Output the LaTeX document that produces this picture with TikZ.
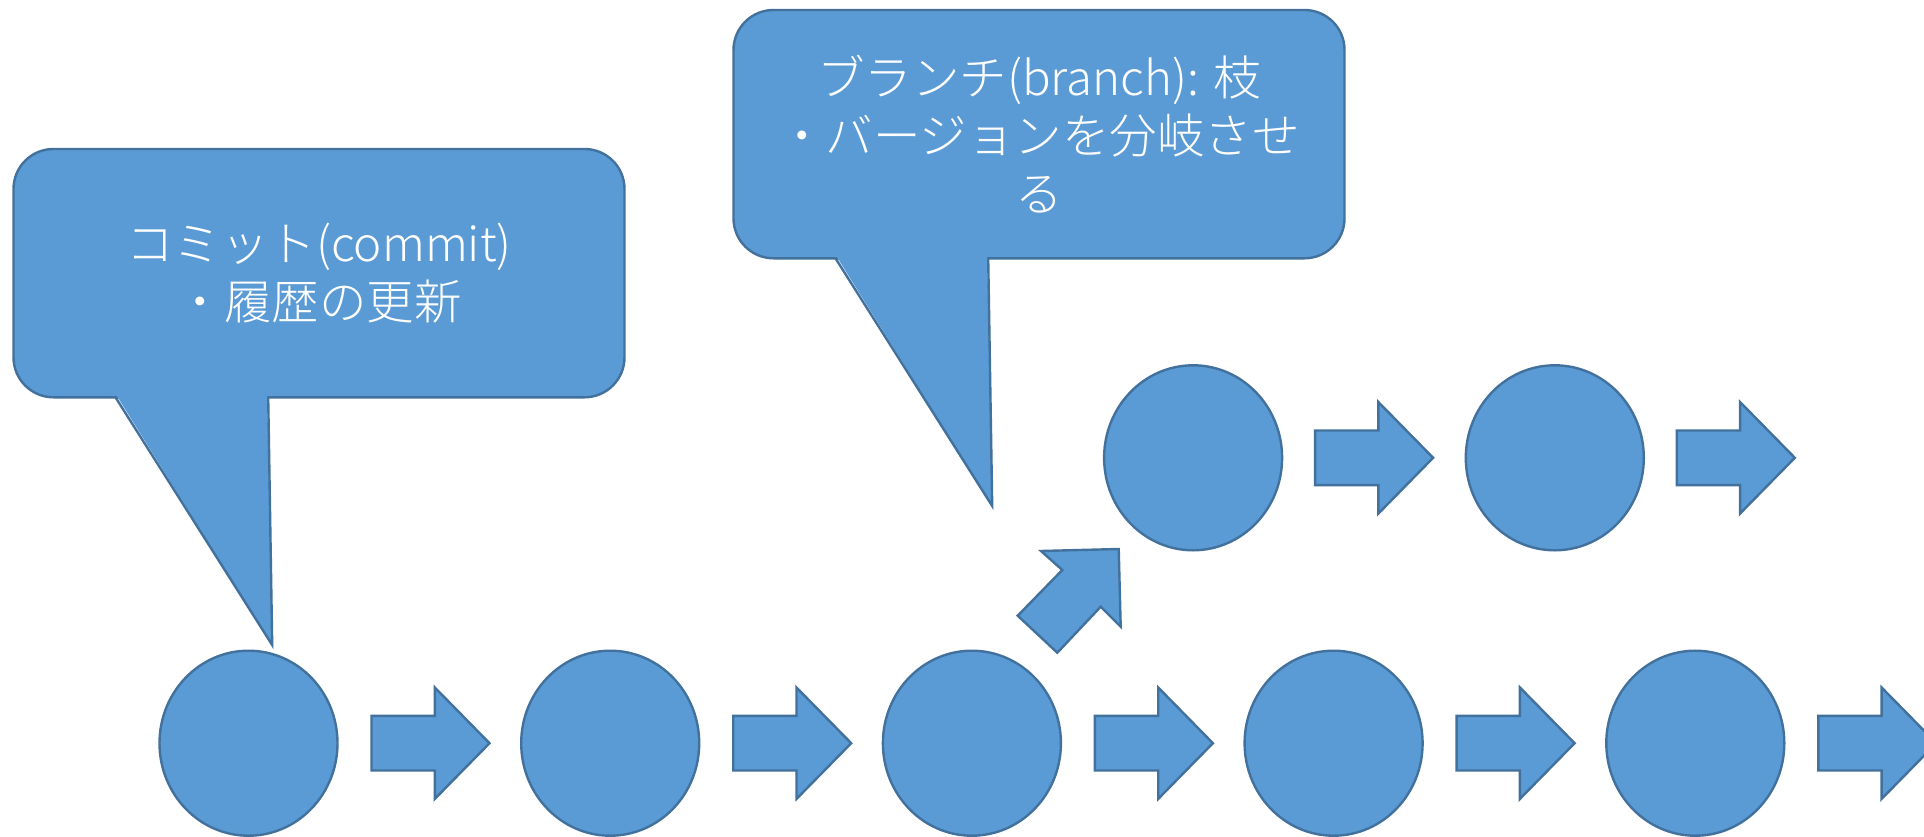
\documentclass[tikz,border=0pt]{standalone}
\usepackage{fontspec}
\newfontfamily\cjk{Noto Sans CJK JP}[UprightFont={* Light}]
\usetikzlibrary{shapes.geometric}
\definecolor{shapefill}{HTML}{5B9BD5}
\definecolor{shapeline}{HTML}{41719C}
\tikzset{
  shapestyle/.style={draw=shapeline, fill=shapefill, line width=2.4pt, line join=miter},
  commit/.style={shapestyle, ellipse, minimum width=178pt, minimum height=185pt, inner sep=0pt},
  callbox/.style={shapestyle, rectangle, rounded corners=40pt, minimum width=611pt, minimum height=248.3pt,
    inner sep=0pt, align=center, text=white, font=\cjk\fontsize{47.5}{58}\selectfont},
  tailfill/.style={fill=shapefill},
  tailline/.style={draw=shapeline, line width=2.4pt, line join=miter},
  barrow/.pic={\draw[shapestyle] (0,-27.3) -- (63.3,-27.3) -- (63.3,-55.7) -- (118,0) -- (63.3,55.7) -- (63.3,27.3) -- (0,27.3) -- cycle;}
}
\begin{document}
\begin{tikzpicture}[x=1pt,y=-1pt]
\clip (0,0) rectangle (1924,837);
\fill[white] (0,0) rectangle (1924,837);
% callout 1
\node[callbox] (k1) at (319,273.15) {コミット(commit)\\・履歴の更新};
\coordinate (k1a) at (115.5,397.3);
\coordinate (k1t) at (272.2,645);
\coordinate (k1b) at (268.2,397.3);
\fill[tailfill] ([xshift=1pt,yshift=2pt]k1a) -- (k1t) -- ([xshift=-1pt,yshift=2pt]k1b) -- cycle;
\draw[tailline] (k1a) -- (k1t) -- (k1b);
% callout 2
\node[callbox] (k2) at (1039,134.15) {ブランチ(branch): 枝\\・バージョンを分岐させ\\る};
\coordinate (k2a) at (835.5,258.3);
\coordinate (k2t) at (992.2,506);
\coordinate (k2b) at (988.2,258.3);
\fill[tailfill] ([xshift=1pt,yshift=2pt]k2a) -- (k2t) -- ([xshift=-1pt,yshift=2pt]k2b) -- cycle;
\draw[tailline] (k2a) -- (k2t) -- (k2b);
% bottom commits
\node[commit] (c1) at (248.5,743.2) {};
\node[commit] (c2) at (610.2,743.2) {};
\node[commit] (c3) at (971.9,743.2) {};
\node[commit] (c4) at (1333.6,743.2) {};
\node[commit] (c5) at (1695.3,743.2) {};
% top commits
\node[commit] (t1) at (1193.1,457.8) {};
\node[commit] (t2) at (1554.8,457.8) {};
% bottom arrows
\pic at (371.5,743.2) {barrow};
\pic at (733.2,743.2) {barrow};
\pic at (1094.9,743.2) {barrow};
\pic at (1456.6,743.2) {barrow};
\pic at (1818.3,743.2) {barrow};
% top arrows
\pic at (1315.1,457.8) {barrow};
\pic at (1676.8,457.8) {barrow};
% branch arrow
\draw[shapestyle] (1017.7,615.7) -- (1057.3,652.7) -- (1100.7,606.7) -- (1120.7,626.7) -- (1118.7,549) -- (1041,551) -- (1062.3,570) -- cycle;
\end{tikzpicture}
\end{document}
